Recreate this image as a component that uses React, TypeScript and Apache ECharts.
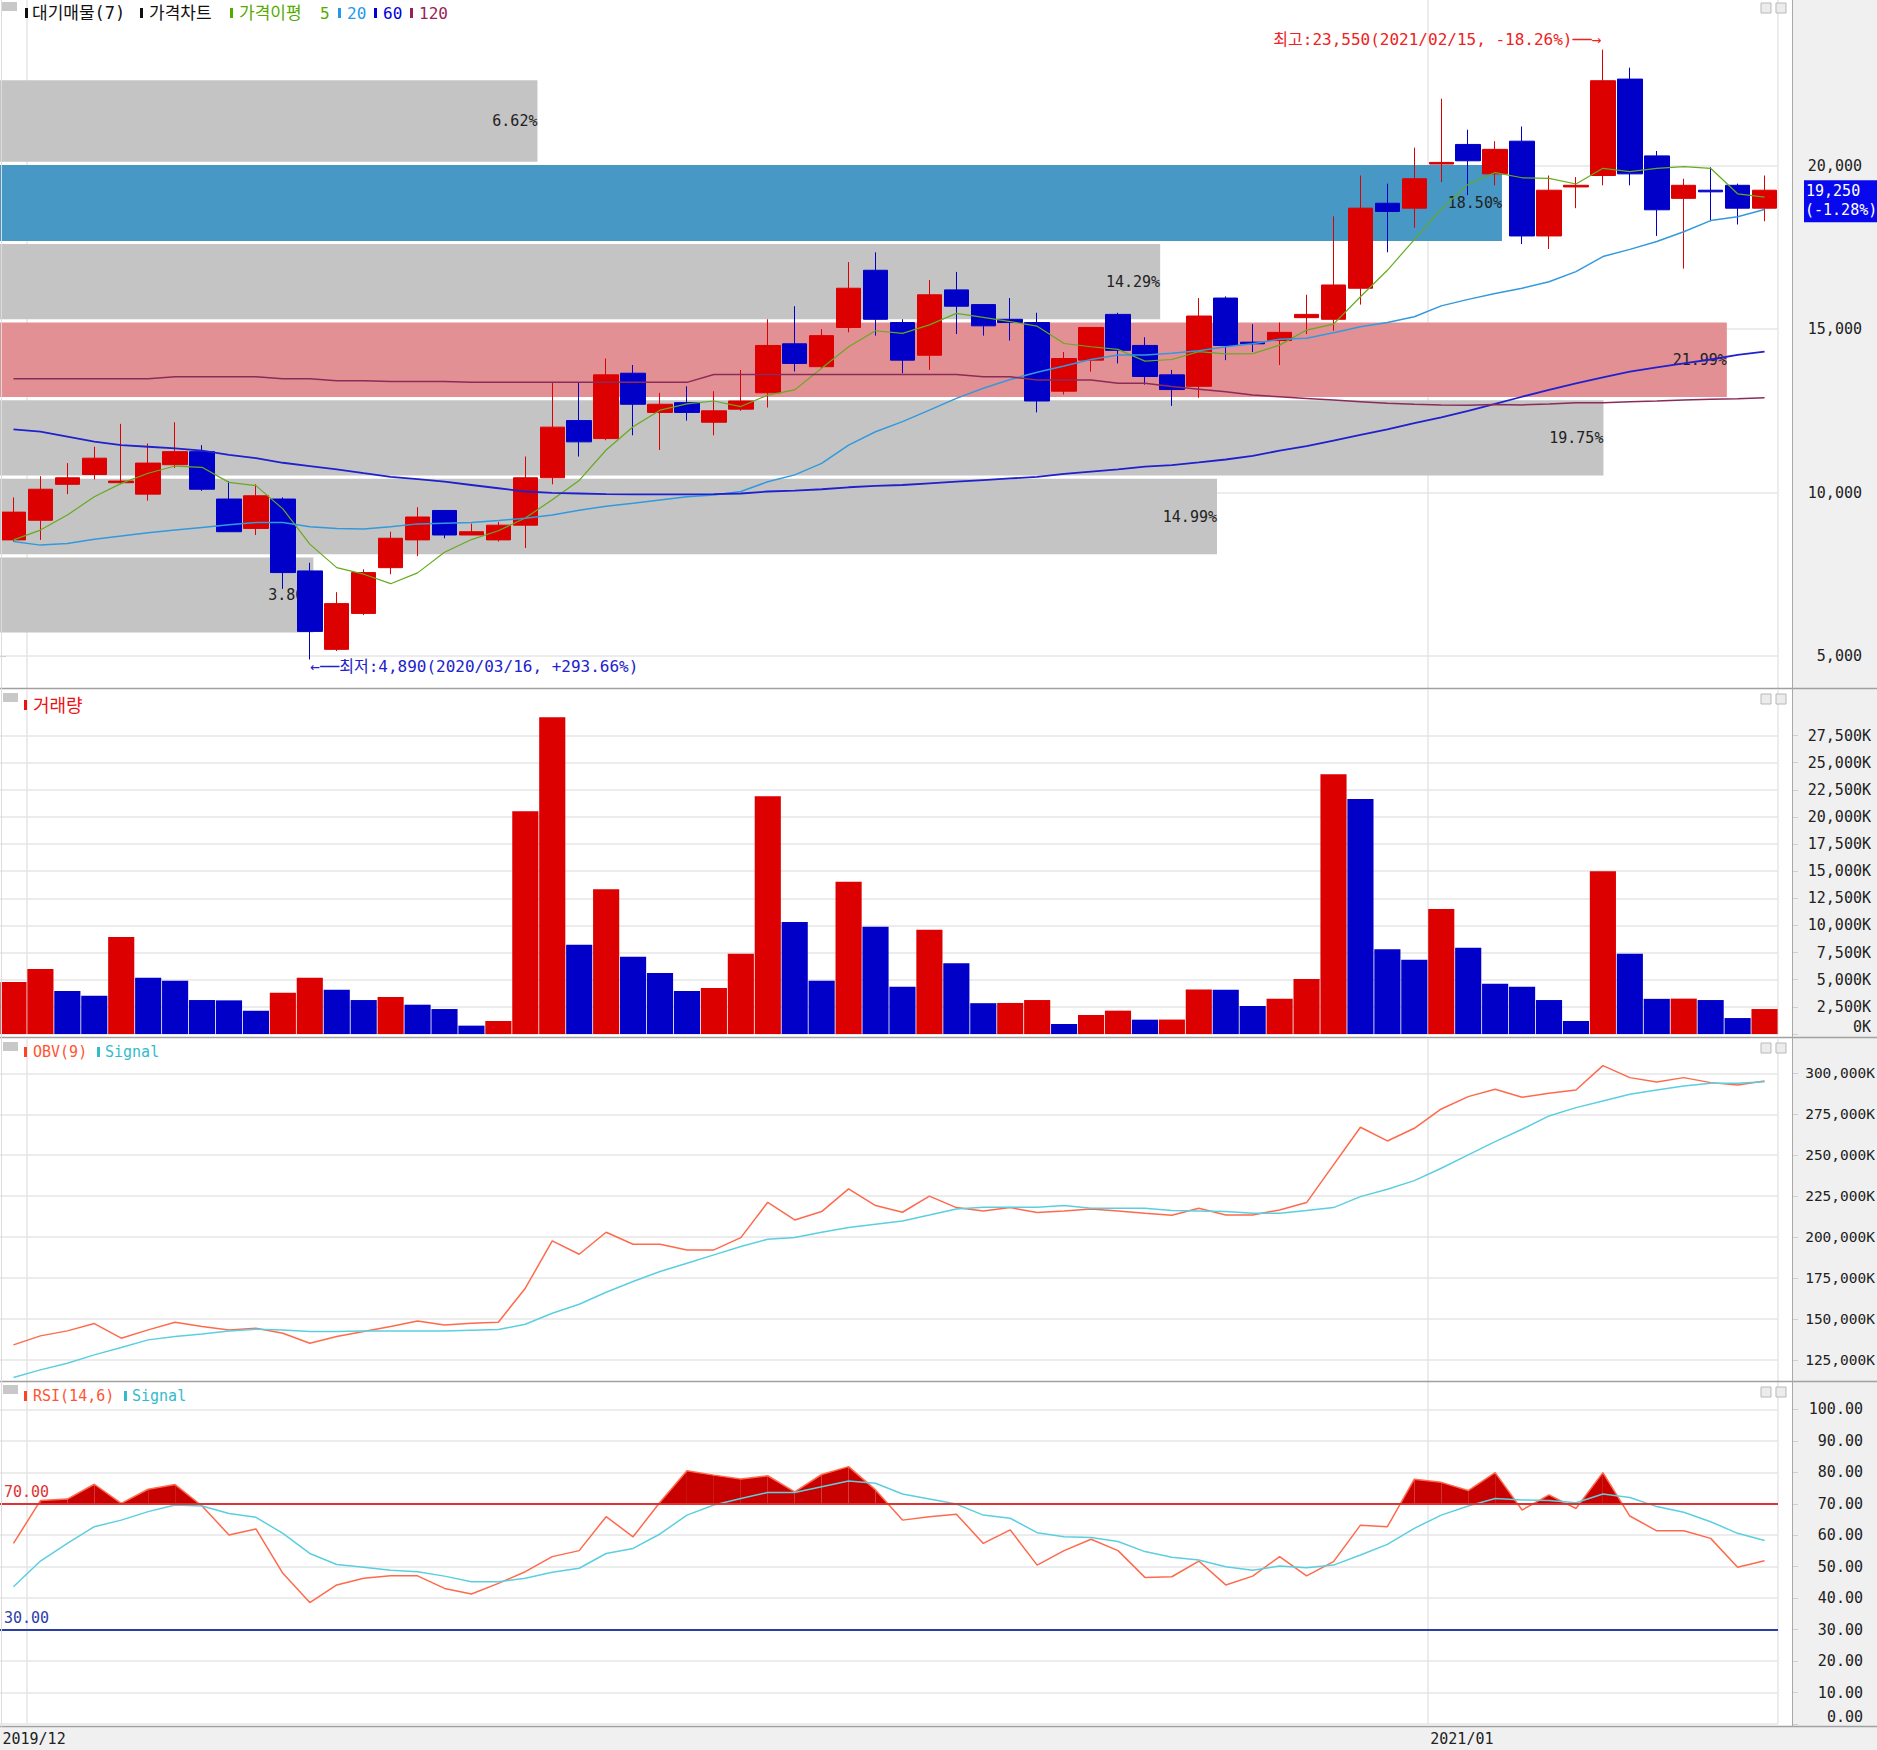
import React, { useEffect, useRef } from "react";
import * as echarts from "echarts";

// ---------------- data ----------------
const WEEKS = [
  "2019/12/30",
  "2020/01/06", "2020/01/13", "2020/01/20", "2020/01/27",
  "2020/02/03", "2020/02/10", "2020/02/17", "2020/02/24",
  "2020/03/02", "2020/03/09", "2020/03/16", "2020/03/23", "2020/03/30",
  "2020/04/06", "2020/04/13", "2020/04/20", "2020/04/27",
  "2020/05/04", "2020/05/11", "2020/05/18", "2020/05/25",
  "2020/06/01", "2020/06/08", "2020/06/15", "2020/06/22", "2020/06/29",
  "2020/07/06", "2020/07/13", "2020/07/20", "2020/07/27",
  "2020/08/03", "2020/08/10", "2020/08/17", "2020/08/24", "2020/08/31",
  "2020/09/07", "2020/09/14", "2020/09/21", "2020/09/28",
  "2020/10/05", "2020/10/12", "2020/10/19", "2020/10/26",
  "2020/11/02", "2020/11/09", "2020/11/16", "2020/11/23", "2020/11/30",
  "2020/12/07", "2020/12/14", "2020/12/21", "2020/12/28",
  "2021/01/04", "2021/01/11", "2021/01/18", "2021/01/25",
  "2021/02/01", "2021/02/08", "2021/02/15", "2021/02/22",
  "2021/03/01", "2021/03/08", "2021/03/15", "2021/03/22", "2021/03/29",
];

const OPEN = [8550, 9150, 10250, 10550, 10300, 9950, 10850, 11250, 9800, 8900, 9800, 7600, 5200, 6300, 7700, 8550, 9450, 8700, 8550, 9000, 10450, 12200, 11650, 13650, 12450, 12750, 12150, 12550, 13050, 14550, 13850, 15050, 16800, 15200, 14200, 16200, 15750, 15300, 15200, 13100, 14050, 15450, 14500, 13600, 13250, 15950, 14600, 14650, 15350, 15300, 16250, 18850, 18700, 20050, 20650, 19750, 20750, 17850, 19350, 19700, 22650, 20300, 19000, 19250, 19400, 18700];
const CLOSE = [9400, 10100, 10450, 11050, 10350, 10900, 11250, 10100, 8800, 9900, 7550, 5750, 6600, 7550, 8600, 9250, 8700, 8800, 9000, 10450, 12000, 11550, 13600, 12700, 12700, 12450, 12500, 12800, 14500, 13950, 14800, 16250, 15300, 14050, 16050, 15700, 15100, 15200, 12800, 14100, 15050, 14350, 13550, 13150, 15400, 14500, 14550, 14900, 15450, 16350, 18700, 18600, 19600, 20100, 20150, 20500, 17850, 19250, 19400, 22600, 19750, 18650, 19400, 19200, 18700, 19250];
const LOW = [8500, 8550, 9950, 10400, 10250, 9750, 10750, 10050, 8800, 8700, 7050, 4890, 5150, 6250, 7500, 8050, 8600, 8700, 8500, 8300, 10250, 11100, 11600, 11750, 11300, 12200, 11750, 12500, 12600, 13700, 13800, 14900, 14800, 13650, 13750, 14850, 14800, 14650, 12450, 13000, 13700, 13950, 13300, 12650, 12900, 14050, 14300, 13900, 14850, 14950, 15750, 17350, 18100, 19500, 19100, 19400, 17600, 17450, 18700, 19400, 19400, 17850, 16850, 18300, 18200, 18300];
const HIGH = [9850, 10500, 10900, 11400, 12100, 11500, 12150, 11450, 10350, 10250, 9850, 7850, 6950, 7650, 8800, 9550, 9450, 9050, 9100, 11100, 13350, 13350, 14100, 13900, 13050, 13250, 13100, 13750, 15300, 15700, 15000, 17050, 17350, 15300, 16500, 16750, 15750, 15950, 15500, 14300, 15050, 15500, 14750, 13750, 15950, 16000, 15150, 15200, 16050, 18450, 19700, 19450, 20550, 22050, 21100, 20750, 21200, 19700, 19650, 23550, 23000, 20450, 19600, 19950, 19450, 19700];

const MA5 = [8550, 8850, 9310, 9870, 10280, 10590, 10810, 10770, 10310, 10210, 9500, 8420, 7700, 7500, 7210, 7540, 8170, 8560, 8830, 9220, 9780, 10370, 11300, 12010, 12520, 12710, 12800, 12630, 12980, 13140, 13800, 14460, 14950, 14870, 15130, 15480, 15360, 15230, 15090, 14560, 14460, 14380, 14020, 14070, 14310, 14240, 14250, 14510, 14970, 15150, 15990, 16800, 17740, 18670, 19430, 19790, 19630, 19610, 19440, 19920, 19820, 19920, 19970, 19920, 19140, 19040];
const MA20 = [8500, 8390, 8440, 8570, 8670, 8770, 8850, 8930, 9010, 9080, 9080, 8950, 8900, 8880, 8950, 9040, 9060, 9080, 9140, 9210, 9310, 9460, 9580, 9670, 9770, 9870, 9920, 10030, 10330, 10540, 10890, 11450, 11860, 12170, 12520, 12880, 13190, 13460, 13680, 13870, 14070, 14210, 14210, 14260, 14340, 14460, 14550, 14690, 14720, 14890, 15070, 15200, 15380, 15710, 15910, 16090, 16250, 16450, 16760, 17220, 17440, 17680, 17980, 18320, 18440, 18660];
const MA60 = [11930, 11860, 11710, 11560, 11450, 11400, 11350, 11280, 11150, 11050, 10910, 10810, 10710, 10590, 10480, 10410, 10330, 10230, 10130, 10030, 9990, 9970, 9950, 9940, 9940, 9940, 9950, 9970, 10030, 10060, 10100, 10160, 10200, 10230, 10280, 10330, 10380, 10430, 10480, 10570, 10640, 10710, 10790, 10840, 10920, 11010, 11120, 11280, 11420, 11590, 11760, 11930, 12120, 12300, 12500, 12710, 12930, 13140, 13340, 13520, 13700, 13830, 13950, 14070, 14210, 14310];
const MA120 = [13480, 13480, 13480, 13480, 13480, 13480, 13540, 13540, 13540, 13540, 13480, 13480, 13420, 13420, 13400, 13400, 13400, 13370, 13370, 13370, 13370, 13370, 13370, 13370, 13370, 13370, 13610, 13610, 13610, 13610, 13610, 13610, 13610, 13610, 13610, 13610, 13540, 13540, 13440, 13440, 13440, 13340, 13340, 13240, 13160, 13080, 12980, 12930, 12880, 12830, 12780, 12730, 12700, 12680, 12670, 12690, 12680, 12710, 12750, 12750, 12780, 12800, 12830, 12850, 12870, 12900];

// weekly volume, thousands of shares
const VOLUME_K = [4800, 5980, 3960, 3530, 8930, 5180, 4910, 3130, 3100, 2150, 3800, 5180, 4080, 3130, 3400, 2700, 2300, 770, 1200, 20520, 29200, 8220, 13340, 7120, 5610, 3960, 4230, 7390, 21900, 10310, 4910, 14020, 9880, 4360, 9600, 6530, 2840, 2860, 3130, 920, 1750, 2150, 1320, 1330, 4090, 4070, 2580, 3250, 5060, 23930, 21660, 7820, 6840, 11530, 7950, 4630, 4360, 3130, 1200, 15000, 7390, 3240, 3260, 3130, 1470, 2300];

const OBV_K = [134230, 139720, 142770, 147250, 138300, 143380, 148060, 145420, 143380, 144400, 141350, 135250, 139310, 142370, 145420, 148870, 146430, 147450, 148060, 168810, 197690, 189550, 202980, 195660, 195660, 192200, 192200, 199720, 221280, 210500, 215590, 229420, 219250, 215180, 225000, 218030, 216000, 218030, 214980, 216000, 217220, 216000, 214570, 213350, 217630, 213550, 213550, 216600, 221080, 244070, 267050, 258710, 266440, 278240, 285760, 290240, 285350, 287800, 289830, 304680, 297360, 294710, 297360, 294310, 292880, 295320];
const OBV_SIGNAL_K = [114300, 118970, 123040, 128130, 132600, 137280, 139310, 140940, 142770, 143790, 143380, 142370, 142370, 142770, 142770, 142770, 142770, 143180, 143580, 146840, 153550, 159040, 166360, 172880, 178980, 184060, 189150, 194230, 198710, 199720, 202980, 205830, 207860, 209890, 213500, 217220, 218230, 218230, 218230, 219250, 217630, 217630, 217630, 216200, 216000, 215590, 214570, 214570, 216200, 218030, 224740, 229220, 234510, 242030, 250170, 258300, 265830, 273970, 279050, 283120, 287190, 289830, 292270, 293900, 293900, 294920];

const RSI = [57.4, 71.0, 71.5, 76.2, 70.1, 74.6, 76.1, 69.3, 60.1, 62.0, 47.9, 38.6, 44.2, 46.3, 47.1, 47.1, 43.1, 41.3, 44.7, 48.4, 53.2, 55.1, 65.9, 59.5, 70.5, 80.5, 79.1, 77.9, 78.9, 73.8, 79.3, 81.8, 74.4, 64.8, 65.9, 66.7, 57.4, 61.7, 50.5, 55.1, 58.7, 55.1, 46.6, 46.8, 51.8, 44.2, 47.0, 53.2, 47.1, 51.6, 63.2, 62.7, 77.8, 76.8, 74.2, 79.9, 68.0, 72.8, 68.5, 79.9, 66.1, 61.4, 61.4, 59.0, 49.8, 51.9];
const RSI_SIGNAL = [43.6, 51.8, 57.4, 62.7, 64.8, 67.5, 69.6, 69.3, 66.9, 65.7, 60.6, 54.2, 50.7, 49.8, 48.9, 48.4, 47.0, 45.2, 45.2, 46.3, 48.2, 49.5, 54.2, 55.8, 60.4, 66.4, 69.6, 71.7, 73.6, 73.6, 75.4, 77.2, 76.5, 73.1, 71.5, 69.9, 66.4, 65.4, 60.8, 59.5, 59.3, 58.0, 54.8, 53.0, 52.1, 50.0, 48.9, 50.2, 49.7, 50.5, 53.7, 57.1, 62.2, 66.4, 69.3, 71.7, 71.2, 71.0, 70.3, 73.1, 72.0, 69.1, 67.3, 64.3, 60.6, 58.3];
const RSI_UPPER = 70;
const RSI_LOWER = 30;

// 대기매물 (volume-at-price) bands: price edges from top to bottom, and shares in %
const VP_EDGES = [22660, 20070, 17650, 15250, 12870, 10470, 8060, 5670];
const VP_PCT = [6.62, 18.5, 14.29, 21.99, 19.75, 14.99, 3.86];

// tick labels
const PRICE_TICKS = [5000, 10000, 15000, 20000];
const VOLUME_TICKS = [0, 2500, 5000, 7500, 10000, 12500, 15000, 17500, 20000, 22500, 25000, 27500];
const OBV_TICKS = [125000, 150000, 175000, 200000, 225000, 250000, 275000, 300000];
const RSI_TICKS = [0, 10, 20, 30, 40, 50, 60, 70, 80, 90, 100];
const DATE_LABEL_IDX = [0, 53];

const LAST_PRICE = 19250;
const LAST_CHANGE = "(-1.28%)";
const HIGH_NOTE = { index: 59, value: 23550, text: "최고:23,550(2021/02/15, -18.26%)──→" };
const LOW_NOTE = { index: 11, value: 4890, text: "←──최저:4,890(2020/03/16, +293.66%)" };

// ---------------- layout & style ----------------
const W = 1877;
const H = 1750;
const PLOT_W = 1778;
const AXIS_X = 1792;
const PRICE_RANGE = [4018, 25070];
const VOLUME_RANGE = [0, 31700];
const OBV_RANGE = [112180, 320940];
const RSI_RANGE = [0, 108.7];
const VP_AXIS_MAX = 21.9; // percent that spans the plot width
const VP_CAP = 21.27; // longest band is clipped by the chart

const RED = "#dd0000";
const BLUE = "#0000c8";
const FONT = "'DejaVu Sans Mono', 'Noto Sans CJK KR', monospace";
const font = (s: number) => `${s}px ${FONT}`;
const GRID_LINE = "#e6e6e6";

const fmtNum = (v: number) => v.toLocaleString("en-US");

function yAx(gridIndex: number, range: number[], ticks: number[], fmt: (v: number) => string, margin: number, size = 15, liftMin = false) {
  return {
    type: "value",
    gridIndex,
    position: "right",
    offset: AXIS_X - PLOT_W,
    min: range[0],
    max: range[1],
    axisLine: { show: false },
    axisTick: { show: true, length: 6, customValues: ticks, lineStyle: { color: "#cfcfcf" } },
    axisLabel: {
      customValues: ticks,
      formatter: (v: number) => fmt(v),
      align: "right",
      margin,
      color: "#222",
      fontSize: size,
      fontFamily: FONT,
      ...(liftMin ? { verticalAlignMinLabel: "bottom" } : {}),
    },
    splitLine: { show: true, lineStyle: { color: GRID_LINE, width: 1.5 } },
  };
}

const yearStart = (i: number) => i > 0 && WEEKS[i].slice(0, 4) !== WEEKS[i - 1].slice(0, 4);

function xAx(gridIndex: number, labels: boolean) {
  return {
    type: "category",
    gridIndex,
    data: WEEKS,
    boundaryGap: true,
    axisLine: { show: false },
    axisTick: { show: false },
    axisLabel: labels
      ? {
          show: true,
          interval: (i: number) => DATE_LABEL_IDX.includes(i),
          formatter: (v: string) => v.slice(0, 7),
          align: "left",
          padding: [0, 0, 0, -11],
          margin: 7,
          color: "#222",
          fontSize: 15,
          fontFamily: FONT,
        }
      : { show: false },
    splitLine: { show: true, interval: (i: number) => yearStart(i), lineStyle: { color: GRID_LINE, width: 1.5 } },
  };
}

function txt(id: string, x: number, y: number, text: string, fill: string, size = 16) {
  return {
    type: "text",
    id,
    x,
    y,
    z: 30,
    silent: true,
    style: { text, fill, font: font(size), verticalAlign: "middle", textVerticalAlign: "middle", align: "left", textAlign: "left" },
  };
}
function mark(id: string, x: number, y: number, fill: string) {
  return { type: "rect", id, z: 30, silent: true, shape: { x, y, width: 3, height: 10 }, style: { fill } };
}

function buildGraphics() {
  const g: any[] = [];
  g.push({ type: "rect", id: "axisBg", z: -10, silent: true, shape: { x: AXIS_X, y: 0, width: W - AXIS_X, height: H }, style: { fill: "#f0f0f0" } });
  g.push({ type: "rect", id: "dateBg", z: -10, silent: true, shape: { x: 0, y: 1727, width: W, height: H - 1727 }, style: { fill: "#f0f0f0" } });
  [688.5, 1037.5, 1381.5, 1726.5].forEach((y, i) =>
    g.push({ type: "line", id: "sep" + i, z: 25, silent: true, shape: { x1: 0, y1: y, x2: W, y2: y }, style: { stroke: "#a0a0a0", lineWidth: 1.5 } })
  );
  g.push({ type: "line", id: "axisLine", z: 25, silent: true, shape: { x1: AXIS_X + 0.5, y1: 0, x2: AXIS_X + 0.5, y2: 1727 }, style: { stroke: "#a8a8a8", lineWidth: 1 } });
  g.push({ type: "line", id: "leftLine", z: 25, silent: true, shape: { x1: 1.5, y1: 0, x2: 1.5, y2: 1727 }, style: { stroke: "#dcdcdc", lineWidth: 1 } });
  [[2, 2], [3, 693], [3, 1042], [3, 1385]].forEach(([x, y], i) =>
    g.push({ type: "rect", id: "sq" + i, z: 26, silent: true, shape: { x, y, width: 15, height: 9 }, style: { fill: "#c8c8c8" } })
  );
  [3, 694, 1043, 1387].forEach((y, i) => {
    g.push({ type: "rect", id: "ic1" + i, z: 26, silent: true, shape: { x: 1761, y, width: 10, height: 10 }, style: { fill: "#ececec", stroke: "#b8b8b8", lineWidth: 1 } });
    g.push({ type: "rect", id: "ic2" + i, z: 26, silent: true, shape: { x: 1776, y, width: 10, height: 10 }, style: { fill: "#ececec", stroke: "#b8b8b8", lineWidth: 1 } });
  });
  g.push(mark("m1", 25, 8, "#111"), txt("t1", 32, 13, "대기매물(7)", "#111", 17));
  g.push(mark("m2", 140, 8, "#111"), txt("t2", 149, 13, "가격차트", "#111", 17));
  g.push(mark("m3", 230, 8, "#55aa00"), txt("t3", 239, 13, "가격이평", "#55aa00", 17), txt("t3b", 320, 13, "5", "#55aa00"));
  g.push(mark("m4", 338, 8, "#2299ee"), txt("t4", 347, 13, "20", "#2299ee"));
  g.push(mark("m5", 374, 8, "#0000dd"), txt("t5", 383, 13, "60", "#0000dd"));
  g.push(mark("m6", 410, 8, "#992255"), txt("t6", 419, 13, "120", "#992255"));
  g.push(mark("m7", 24, 700, "#ee1111"), txt("t7", 33, 705, "거래량", "#ee1111", 18));
  g.push(mark("m8", 24, 1047, "#ff4422"), txt("t8", 33, 1052, "OBV(9)", "#ff5533", 15));
  g.push(mark("m9", 97, 1047, "#33bbcc"), txt("t9", 105, 1052, "Signal", "#33bbcc", 15));
  g.push(mark("m10", 24, 1391, "#ff4422"), txt("t10", 33, 1396, "RSI(14,6)", "#ff5533", 15));
  g.push(mark("m11", 124, 1391, "#33bbcc"), txt("t11", 132, 1396, "Signal", "#33bbcc", 15));
  return g;
}

function priceBox(py: number) {
  return [
    { type: "rect", id: "pbox", z: 40, silent: true, shape: { x: 1804, y: py - 10, width: W - 1804, height: 42 }, style: { fill: "#0808ee" } },
    { type: "text", id: "pbox1", z: 41, silent: true, x: 1806, y: py + 1, style: { text: fmtNum(LAST_PRICE), fill: "#fff", font: font(15), verticalAlign: "middle", textVerticalAlign: "middle" } },
    { type: "text", id: "pbox2", z: 41, silent: true, x: 1805, y: py + 20, style: { text: LAST_CHANGE, fill: "#fff", font: font(15), verticalAlign: "middle", textVerticalAlign: "middle" } },
  ];
}

function buildOption() {
  const candles = WEEKS.map((_, i) => [OPEN[i], CLOSE[i], LOW[i], HIGH[i]]);
  const volumeData = VOLUME_K.map((v, i) => ({
    value: v,
    itemStyle: { color: i === 0 || v > VOLUME_K[i - 1] ? RED : BLUE },
  }));
  const vpMax = Math.max(...VP_PCT);
  const vpData = VP_PCT.map((p, i) => [p, VP_EDGES[i + 1], VP_EDGES[i]]);
  const rsiSegs = RSI.slice(0, -1).map((v, i) => [i, v, RSI[i + 1]]);
  const maLine = (data: number[], color: string, width: number) => ({
    type: "line",
    xAxisIndex: 0,
    yAxisIndex: 0,
    data,
    symbol: "none",
    silent: true,
    z: 3,
    lineStyle: { color, width },
  });

  return {
    animation: false,
    textStyle: { fontFamily: FONT },
    grid: [
      { left: 0, top: 0, width: PLOT_W, height: 688, outerBoundsMode: "none" },
      { left: 0, top: 690, width: PLOT_W, height: 344, outerBoundsMode: "none" },
      { left: 0, top: 1039, width: PLOT_W, height: 342, outerBoundsMode: "none" },
      { left: 0, top: 1382, width: PLOT_W, height: 342, outerBoundsMode: "none" },
    ],
    xAxis: [
      xAx(0, false),
      xAx(1, false),
      xAx(2, false),
      xAx(3, true),
      { type: "value", gridIndex: 0, min: 0, max: VP_AXIS_MAX, show: false },
    ],
    yAxis: [
      yAx(0, PRICE_RANGE, PRICE_TICKS, fmtNum, 70),
      yAx(1, VOLUME_RANGE, VOLUME_TICKS, (v) => fmtNum(v) + "K", 79, 15, true),
      yAx(2, OBV_RANGE, OBV_TICKS, (v) => fmtNum(v) + "K", 83, 14.5),
      yAx(3, RSI_RANGE, RSI_TICKS, (v) => v.toFixed(2), 71, 15, true),
    ],
    series: [
      {
        type: "custom",
        name: "대기매물",
        xAxisIndex: 4,
        yAxisIndex: 0,
        z: 1,
        silent: true,
        data: vpData,
        renderItem: (params: any, api: any) => {
          const pct = api.value(0);
          const lo = api.value(1);
          const hi = api.value(2);
          const a = api.coord([0, hi]);
          const b = api.coord([Math.min(pct, VP_CAP), lo]);
          const isCur = LAST_PRICE >= lo && LAST_PRICE < hi;
          const fill = isCur ? "#4898c6" : pct === vpMax ? "#e39095" : "#c4c4c4";
          return {
            type: "group",
            children: [
              { type: "rect", shape: { x: a[0], y: a[1] + 1.6, width: b[0] - a[0], height: b[1] - a[1] - 3.2 }, style: { fill } },
              {
                type: "text",
                style: {
                  text: pct.toFixed(2) + "%",
                  x: b[0],
                  y: (a[1] + b[1]) / 2,
                  align: "right",
                  textAlign: "right",
                  verticalAlign: "middle",
                  textVerticalAlign: "middle",
                  fill: "#222",
                  font: font(15),
                },
              },
            ],
          };
        },
      },
      {
        type: "candlestick",
        name: "가격차트",
        xAxisIndex: 0,
        yAxisIndex: 0,
        data: candles,
        barWidth: 25,
        z: 2,
        silent: true,
        itemStyle: { color: RED, color0: BLUE, borderColor: RED, borderColor0: BLUE, borderWidth: 1 },
        markPoint: {
          silent: true,
          symbol: "circle",
          symbolSize: 1,
          itemStyle: { color: "rgba(0,0,0,0)" },
          data: [
            {
              coord: [HIGH_NOTE.index, HIGH_NOTE.value],
              label: { show: true, position: "left", distance: 1, offset: [0, -10], formatter: HIGH_NOTE.text, color: "#ee2222", fontSize: 16, fontFamily: FONT },
            },
            {
              coord: [LOW_NOTE.index, LOW_NOTE.value],
              label: { show: true, position: "right", distance: 0, offset: [0, 7], formatter: LOW_NOTE.text, color: "#2222cc", fontSize: 16, fontFamily: FONT },
            },
          ],
        },
      },
      maLine(MA5, "#66aa1e", 1.2),
      maLine(MA20, "#3399dd", 1.5),
      maLine(MA60, "#2020cc", 1.8),
      maLine(MA120, "#8c2a5a", 1.5),
      {
        type: "bar",
        name: "거래량",
        xAxisIndex: 1,
        yAxisIndex: 1,
        data: volumeData,
        barCategoryGap: "3%",
        silent: true,
      },
      {
        type: "line",
        name: "OBV(9)",
        xAxisIndex: 2,
        yAxisIndex: 2,
        data: OBV_K,
        symbol: "none",
        silent: true,
        lineStyle: { color: "#ff6a4d", width: 1.5 },
      },
      {
        type: "line",
        name: "Signal",
        xAxisIndex: 2,
        yAxisIndex: 2,
        data: OBV_SIGNAL_K,
        symbol: "none",
        silent: true,
        lineStyle: { color: "#5bcfe0", width: 1.5 },
      },
      {
        type: "line",
        name: "RSI(14,6)",
        xAxisIndex: 3,
        yAxisIndex: 3,
        data: RSI,
        symbol: "none",
        silent: true,
        lineStyle: { color: "#ff6a4d", width: 1.5 },
        markLine: {
          silent: true,
          symbol: "none",
          label: { position: "insideStartTop", distance: 4, fontSize: 15, fontFamily: FONT },
          data: [
            { yAxis: RSI_UPPER, lineStyle: { color: "#dd3333", width: 2, type: "solid" }, label: { formatter: RSI_UPPER.toFixed(2), color: "#dd3333" } },
            { yAxis: RSI_LOWER, lineStyle: { color: "#2b3ea8", width: 2, type: "solid" }, label: { formatter: RSI_LOWER.toFixed(2), color: "#2b3ea8" } },
          ],
        },
      },
      {
        // overbought fill: the part of the RSI line above the upper level
        type: "custom",
        name: "RSI fill",
        xAxisIndex: 3,
        yAxisIndex: 3,
        z: 3,
        silent: true,
        data: rsiSegs,
        renderItem: (params: any, api: any) => {
          const i = api.value(0);
          const v0 = api.value(1);
          const v1 = api.value(2);
          if (v0 <= RSI_UPPER && v1 <= RSI_UPPER) return { type: "group", children: [] };
          const p0 = api.coord([i, v0]);
          const p1 = api.coord([i + 1, v1]);
          const b0 = api.coord([i, RSI_UPPER]);
          const b1 = api.coord([i + 1, RSI_UPPER]);
          let pts: number[][];
          if (v0 >= RSI_UPPER && v1 >= RSI_UPPER) {
            pts = [b0, p0, p1, b1];
          } else {
            const t = (RSI_UPPER - v0) / (v1 - v0);
            const xc = p0[0] + t * (p1[0] - p0[0]);
            pts = v0 < RSI_UPPER ? [[xc, b0[1]], p1, b1] : [b0, p0, [xc, b0[1]]];
          }
          return { type: "polygon", shape: { points: pts }, style: { fill: "#c80000" } };
        },
      },
      {
        type: "line",
        name: "RSI Signal",
        xAxisIndex: 3,
        yAxisIndex: 3,
        data: RSI_SIGNAL,
        symbol: "none",
        silent: true,
        z: 4,
        lineStyle: { color: "#5bcfe0", width: 1.5 },
      },
    ],
    graphic: { elements: buildGraphics() },
  };
}

export default function App() {
  const ref = useRef<HTMLDivElement>(null);
  useEffect(() => {
    document.body.style.margin = "0";
    const chart = echarts.init(ref.current as HTMLDivElement, null, { renderer: "svg" });
    chart.setOption(buildOption() as any);
    const py = chart.convertToPixel({ yAxisIndex: 0 } as any, LAST_PRICE) as unknown as number;
    chart.setOption({ graphic: { elements: priceBox(py) } } as any);
    return () => chart.dispose();
  }, []);
  return <div ref={ref} style={{ width: W, height: H }} />;
}
